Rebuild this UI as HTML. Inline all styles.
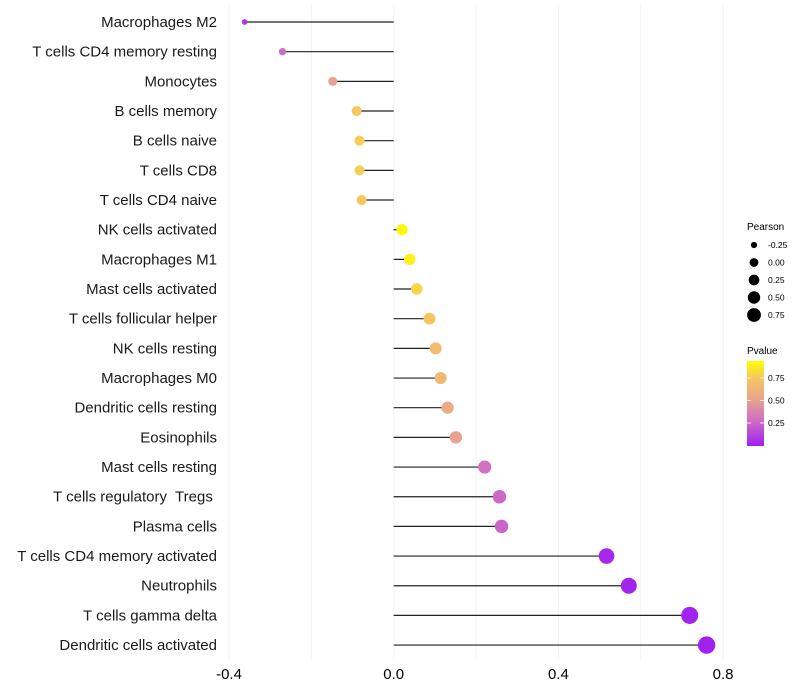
<!DOCTYPE html>
<html><head><meta charset="utf-8"><style>
body{margin:0;background:#fff;font-family:"Liberation Sans",sans-serif;}
svg{display:block}
text{white-space:pre}
</style></head><body>
<svg id="chart" width="800" height="700">
<defs>
<linearGradient id="pg" x1="0" y1="1" x2="0" y2="0">
<stop offset="0" stop-color="#a020f0"/>
<stop offset="0.3" stop-color="#cf6dc4"/>
<stop offset="0.55" stop-color="#e8a48e"/>
<stop offset="0.8" stop-color="#f5c75e"/>
<stop offset="1" stop-color="#ffff00"/>
</linearGradient>
</defs>
<g id="grid"></g><g id="marks"></g><g id="labels"></g><g id="legend"></g>
</svg>
<script>
const categories=["Macrophages M2","T cells CD4 memory resting","Monocytes","B cells memory","B cells naive","T cells CD8","T cells CD4 naive","NK cells activated","Macrophages M1","Mast cells activated","T cells follicular helper","NK cells resting","Macrophages M0","Dendritic cells resting","Eosinophils","Mast cells resting","T cells regulatory  Tregs ","Plasma cells","T cells CD4 memory activated","Neutrophils","T cells gamma delta","Dendritic cells activated"];
const pearson=[-0.362,-0.27,-0.148,-0.09,-0.083,-0.083,-0.078,0.02,0.039,0.056,0.087,0.102,0.114,0.131,0.151,0.221,0.257,0.262,0.517,0.571,0.719,0.76];
const pvalue=[0.1,0.3,0.55,0.8,0.82,0.82,0.8,0.98,0.95,0.85,0.78,0.72,0.7,0.6,0.55,0.32,0.28,0.27,0.03,0.02,0.01,0.005];
const xTicks=[-0.4,0,0.4,0.8];
const xTickLabels=["-0.4","0.0","0.4","0.8"];
const NS="http://www.w3.org/2000/svg";
const x=v=>393.7+v*411.7;
const y=i=>22+i*29.67;
const rad=v=>Math.sqrt(Math.max(4,30+60*v));
function col(p){
 const st=[[0,[160,32,240]],[0.3,[207,109,196]],[0.55,[232,164,142]],[0.8,[245,199,94]],[1,[255,255,0]]];
 for(let k=1;k<st.length;k++){if(p<=st[k][0]){const t=(p-st[k-1][0])/(st[k][0]-st[k-1][0]);const a=st[k-1][1],b=st[k][1];return `rgb(${a.map((c,j)=>Math.round(c+(b[j]-c)*t)).join(',')})`;}}
 return "rgb(255,255,0)";
}
function mk(tag,attrs,parent,text){const e=document.createElementNS(NS,tag);for(const k in attrs)e.setAttribute(k,attrs[k]);if(text!==undefined)e.textContent=text;document.getElementById(parent).appendChild(e);return e;}
for(let v=-0.4;v<=0.81;v+=0.2){
 const g=mk("line",{x1:x(v),x2:x(v),y1:5,y2:660,stroke:"#f3f3f3","stroke-width":1},"grid");
 
 
}
xTicks.forEach((t,i)=>{
 const e=mk("text",{x:x(t),y:679,"text-anchor":"middle","font-size":15,fill:"#000"},"labels",xTickLabels[i]);
 
 
});
categories.forEach((c,i)=>{
 const l=mk("text",{x:217,y:y(i)+5,"text-anchor":"end","font-size":15,fill:"#1a1a1a"},"labels",c);
 
 
 const s=mk("line",{x1:x(0),x2:x(pearson[i]),y1:y(i),y2:y(i),stroke:"#222","stroke-width":1.2},"marks");
 
 
 const d=mk("circle",{cx:x(pearson[i]),cy:y(i),r:rad(pearson[i]),fill:col(pvalue[i])},"marks");
 
 
});
const lg="legend";
let t=mk("text",{x:747,y:230,"font-size":10},lg,"Pearson");
[-0.25,0,0.25,0.5,0.75].forEach((v,i)=>{
 const cy=245+i*17.5;
 const c=mk("circle",{cx:754,cy:cy,r:rad(v)*0.8,fill:"#000"},lg);
 
 
 const tt=mk("text",{x:768,y:cy+3,"font-size":8.5},lg,v.toFixed(2));
 
 
});
t=mk("text",{x:747,y:354,"font-size":10},lg,"Pvalue");
const bar=mk("rect",{x:747,y:361,width:17,height:85,fill:"url(#pg)"},lg);


[[0.75,378],[0.5,400.5],[0.25,423]].forEach(([v,yy])=>{
 const a=mk("line",{x1:747,x2:751,y1:yy,y2:yy,stroke:"#fff","stroke-width":0.8},lg);
 
 const b=mk("line",{x1:760,x2:764,y1:yy,y2:yy,stroke:"#fff","stroke-width":0.8},lg);
 
 const tt=mk("text",{x:768,y:yy+3,"font-size":8.5},lg,v.toFixed(2));
 
});
</script>
</body></html>
